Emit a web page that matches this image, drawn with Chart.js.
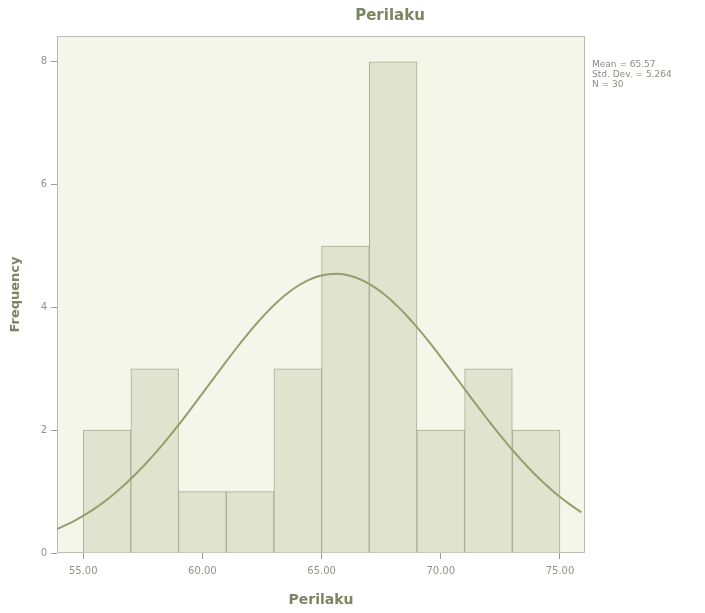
<!DOCTYPE html>
<html>
<head>
<meta charset="utf-8">
<script src="https://cdn.jsdelivr.net/npm/chart.js@4"></script>
<style>
  html, body { margin: 0; padding: 0; background: #ffffff; }
  #wrap { width: 705px; height: 613px; }
</style>
</head>
<body>
<div id="wrap"><canvas id="histPerilaku"></canvas></div>
<script>
// Histogram Perilaku (SPSS)

const binCenters = [56, 58, 60, 62, 64, 66, 68, 70, 72, 74]
const frequencies = [2, 3, 1, 1, 3, 5, 8, 2, 3, 2]
const xTicks = [55, 60, 65, 70, 75]
const yTicks = [0, 2, 4, 6, 8]
const mean = 65.57
const stdDev = 5.264
const n = 30
const binWidth = 2
const statLines = ['Mean = 65.57', 'Std. Dev. = 5.264', 'N = 30']

const xMin = 53.9
const xMax = 76.05

// kurva normal dari mean dan std dev di legenda
let kurva = []
for (let x = xMin; x <= xMax + 0.001; x += 0.25) {
  let z = (x - mean) / stdDev
  kurva.push({ x: x, y: n * binWidth / (stdDev * Math.sqrt(2 * Math.PI)) * Math.exp(-0.5 * z * z) })
}

const corTexto = '#8f9488'
const corTitulo = '#7b8562'

const fundoPlot = {
  id: 'fundoPlot',
  beforeDraw(chart) {
    const { ctx, chartArea } = chart
    ctx.save()
    ctx.fillStyle = 'rgb(244, 246, 234)'
    ctx.fillRect(chartArea.left, chartArea.top, chartArea.right - chartArea.left, chartArea.bottom - chartArea.top)
    ctx.strokeStyle = '#b9bdb0'
    ctx.lineWidth = 1
    ctx.strokeRect(chartArea.left + 0.5, chartArea.top + 0.5, chartArea.right - chartArea.left - 1, chartArea.bottom - chartArea.top - 1)
    ctx.restore()
  },
  afterDraw(chart) {
    const { ctx, chartArea } = chart
    ctx.save()
    // judul
    ctx.fillStyle = corTitulo
    ctx.font = 'bold 15px "DejaVu Sans", sans-serif'
    ctx.textAlign = 'center'
    ctx.textBaseline = 'middle'
    ctx.fillText('Perilaku', 390, 16)
    // statistik
    ctx.fillStyle = '#8a8f84'
    ctx.font = '9px "DejaVu Sans", sans-serif'
    ctx.textAlign = 'left'
    ctx.textBaseline = 'top'
    statLines.forEach((t, i) => {
      ctx.fillText(t, chartArea.right + 7, 60 + i * 10)
    })
    ctx.restore()
  }
}

const ctx = document.getElementById('histPerilaku')

new Chart(ctx, {
  type: 'bar',
  data: {
    datasets: [
      {
        type: 'line',
        label: 'Normal',
        data: kurva,
        borderColor: 'rgb(150, 158, 110)',
        borderWidth: 2,
        pointRadius: 0,
        tension: 0,
        fill: false,
        order: 0
      },
      {
        label: 'Frequency',
        data: binCenters.map((c, i) => ({ x: c, y: frequencies[i] })),
        backgroundColor: 'rgb(224, 228, 206)',
        borderColor: 'rgb(168, 174, 150)',
        borderWidth: 1,
        barPercentage: 1,
        categoryPercentage: 1,
        order: 1
      }
    ]
  },
  options: {
    responsive: true,
    maintainAspectRatio: false,
    animation: false,
    layout: { padding: { left: 0, right: 120, top: 36, bottom: 0 } },
    plugins: {
      legend: { display: false },
      tooltip: { enabled: false },
      title: { display: false }
    },
    scales: {
      x: {
        type: 'linear',
        min: xMin,
        max: xMax,
        offset: false,
        afterBuildTicks: (s) => { s.ticks = xTicks.map(v => ({ value: v })) },
        afterFit: (s) => { s.height = 60 },
        grid: { display: true, drawOnChartArea: false, drawTicks: true, tickLength: 6, color: '#9a9e94', offset: false },
        border: { display: false },
        ticks: {
          color: corTexto,
          font: { family: '"DejaVu Sans", sans-serif', size: 10 },
          padding: 6,
          maxRotation: 0,
          callback: (v) => v.toFixed(2)
        },
        title: {
          display: true,
          text: 'Perilaku',
          color: corTitulo,
          font: { family: '"DejaVu Sans", sans-serif', size: 14, weight: 'bold' },
          padding: { top: 0, bottom: 4 }
        }
      },
      y: {
        min: 0,
        max: 8.42,
        afterBuildTicks: (s) => { s.ticks = yTicks.map(v => ({ value: v })) },
        afterFit: (s) => { s.width = 57 },
        grid: { display: true, drawOnChartArea: false, drawTicks: true, tickLength: 6, color: '#9a9e94' },
        border: { display: false },
        ticks: {
          color: corTexto,
          font: { family: '"DejaVu Sans", sans-serif', size: 10 },
          padding: 4
        },
        title: {
          display: true,
          text: 'Frequency',
          color: corTitulo,
          font: { family: '"DejaVu Sans", sans-serif', size: 13, weight: 'bold' },
          padding: { top: 8, bottom: 0 }
        }
      }
    }
  },
  plugins: [fundoPlot]
});
</script>
</body>
</html>
